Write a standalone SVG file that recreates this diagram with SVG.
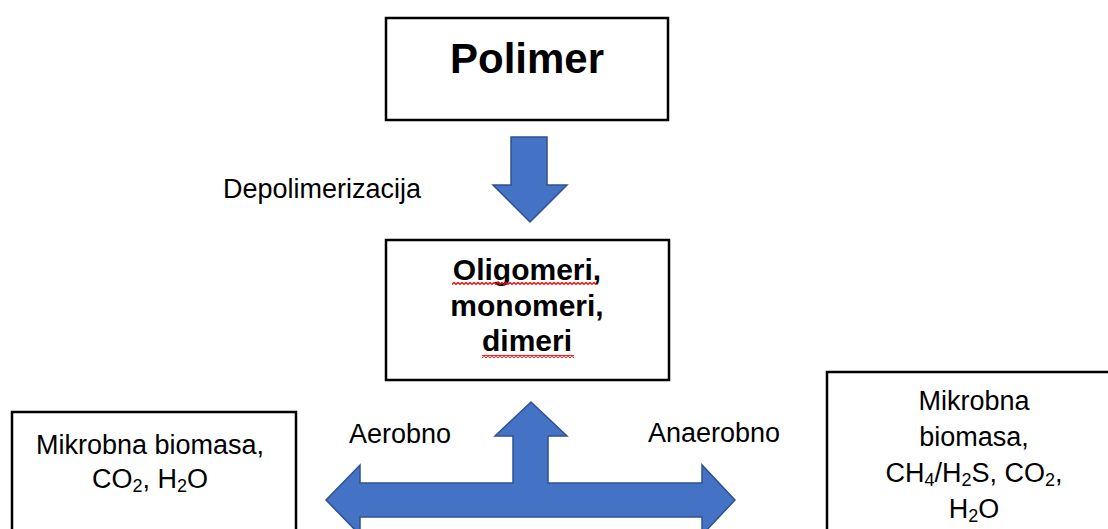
<svg xmlns="http://www.w3.org/2000/svg" width="1108" height="529" viewBox="0 0 1108 529">
  <style>
    .box { fill: #ffffff; stroke: #000000; stroke-width: 2.5; }
    .arrow { fill: #4472C4; stroke: #2F528F; stroke-width: 1.5; stroke-linejoin: miter; }
    .t { font-family: "Liberation Sans", Arial, sans-serif; font-size: 27px; fill: #000000; }
    .tb { font-family: "Liberation Sans", Arial, sans-serif; font-weight: bold; fill: #000000; }
    .sub { font-size: 18px; }
  </style>
  <defs>
    <pattern id="squiggle" width="4" height="3" patternUnits="userSpaceOnUse">
      <path d="M0,2.5 L2,0.5 L4,2.5" fill="none" stroke="#ff0000" stroke-width="1.3"/>
    </pattern>
  </defs>
  <rect width="1108" height="529" fill="#ffffff"/>

  <g id="connectors">
    <polygon class="arrow" points="511,137 547,137 547,185 567,185 530,222 493,185 511,185"/>
    <polygon class="arrow" points="531,402 567,436 548,436 548,483 702,483 702,465 735,500 702,535 702,517 360,517 360,535 326,500 360,465 360,483 513,483 513,436 495,436"/>
    <text class="t" x="223" y="198">Depolimerizacija</text>
    <text class="t" x="349" y="443">Aerobno</text>
    <text class="t" x="648" y="442">Anaerobno</text>
  </g>

  <g id="node-polimer">
    <rect class="box" x="386" y="18" width="282" height="102"/>
    <text class="tb" x="527" y="73" font-size="42" text-anchor="middle">Polimer</text>
  </g>

  <g id="node-oligomeri">
    <rect class="box" x="386" y="240" width="283" height="140"/>
    <text class="tb" x="527" y="280" font-size="30" text-anchor="middle">Oligomeri,</text>
    <text class="tb" x="527" y="316" font-size="30" text-anchor="middle">monomeri,</text>
    <text class="tb" x="527" y="351" font-size="30" text-anchor="middle">dimeri</text>
    <rect x="452" y="282" width="144" height="3" fill="url(#squiggle)"/>
    <rect x="482" y="355" width="92" height="3" fill="url(#squiggle)"/>
  </g>

  <g id="node-aerobno">
    <rect class="box" x="12" y="412" width="284" height="140"/>
    <text class="t" x="150" y="454" text-anchor="middle">Mikrobna biomasa,</text>
    <text class="t" x="150" y="488" text-anchor="middle">CO<tspan class="sub" dy="4">2</tspan><tspan dy="-4">, H</tspan><tspan class="sub" dy="4">2</tspan><tspan dy="-4">O</tspan></text>
  </g>

  <g id="node-anaerobno">
    <rect class="box" x="827" y="372" width="294" height="180"/>
    <text class="t" x="974" y="410" text-anchor="middle">Mikrobna</text>
    <text class="t" x="974" y="446" text-anchor="middle">biomasa,</text>
    <text class="t" x="974" y="482" text-anchor="middle">CH<tspan class="sub" dy="4">4</tspan><tspan dy="-4">/H</tspan><tspan class="sub" dy="4">2</tspan><tspan dy="-4">S, CO</tspan><tspan class="sub" dy="4">2</tspan><tspan dy="-4">,</tspan></text>
    <text class="t" x="974" y="518" text-anchor="middle">H<tspan class="sub" dy="4">2</tspan><tspan dy="-4">O</tspan></text>
  </g>
</svg>
